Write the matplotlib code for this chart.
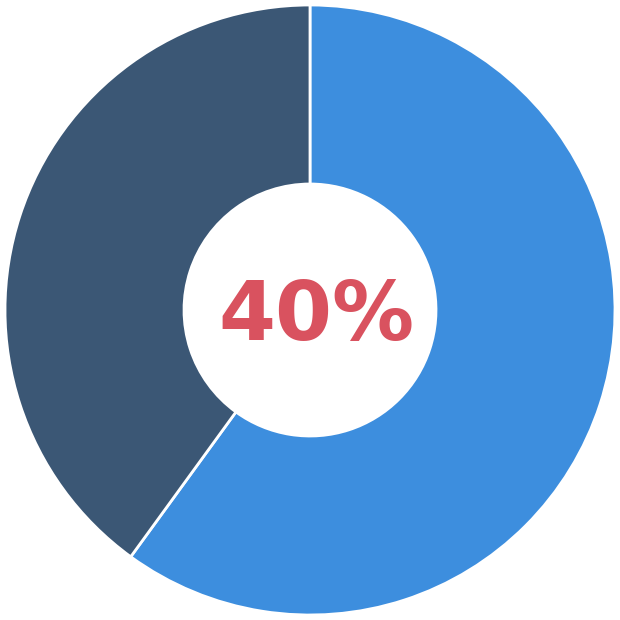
import matplotlib
matplotlib.use("Agg")
import matplotlib.pyplot as plt

# Werte des Donuts
labels = ["Rest", "Anteil"]
values = [60, 40]
colors = ["#3d8ede", "#3b5775"]
center_text = "40%"

fig = plt.figure(figsize=(6.2, 6.2), dpi=100)
ax = fig.add_axes([0, 0, 1, 1])

outer_r = 305 / 310
ax.pie(values, colors=colors, startangle=90, counterclock=False,
       radius=outer_r, center=(0, 0),
       wedgeprops=dict(width=outer_r * (1 - 126 / 305), edgecolor="white", linewidth=2))

ax.text(0.02, -0.025, center_text, ha="center", va="center",
        fontsize=59, fontweight="bold", color="#d9525f", family="DejaVu Sans")

ax.set_xlim(-1, 1)
ax.set_ylim(-1, 1)
ax.set_aspect("equal")
ax.axis("off")

fig.savefig("out.png", dpi=100, facecolor="white")
